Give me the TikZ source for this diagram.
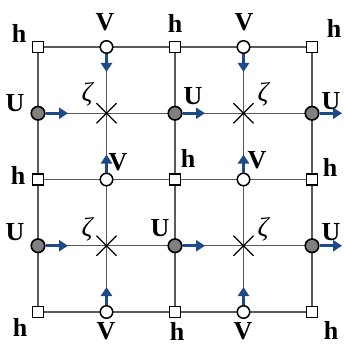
\documentclass[tikz,border=0pt]{standalone}
\usepackage{fontspec}
\setmainfont{Liberation Serif}
\usetikzlibrary{calc,positioning,arrows.meta,shapes.misc}
\definecolor{GridGray}{HTML}{5A5A5A}
\definecolor{FlowBlue}{HTML}{1F4A8A}
\definecolor{UFill}{HTML}{808080}

\tikzset{
  hbox/.style={draw=black, fill=white, line width=1.5pt, minimum size=11pt, inner sep=0pt},
  vdot/.style={circle, draw=black, fill=white, line width=1.5pt, minimum size=12.5pt, inner sep=0pt},
  udot/.style={circle, draw=black, fill=UFill, line width=1.6pt, minimum size=13.5pt, inner sep=0pt},
  zetax/.style={cross out, draw=black, line width=1.1pt, minimum size=19pt, inner sep=0pt},
  flow/.style={FlowBlue, line width=3.4pt, -{Triangle[length=9pt,width=11pt]}},
  lbl/.style={font=\fontsize{26}{26}\selectfont\bfseries, inner sep=0pt},
  zlbl/.style={font=\fontsize{27}{27}\selectfont\itshape, inner sep=0pt}
}

\begin{document}
\begin{tikzpicture}[x=1pt, y=-1pt]
  \useasboundingbox (0,0) rectangle (343,345);

  % grid points
  \foreach \i in {0,...,4}
    \foreach \j in {0,...,4}
      \coordinate (g-\i-\j) at ({38+68.5*\i},{47+66.25*\j});

  % grid lines
  \foreach \k in {0,...,4} {
    \draw[GridGray, line width=1.3pt] (g-\k-0) -- (g-\k-4);
    \draw[GridGray, line width=1.3pt] (g-0-\k) -- (g-4-\k);
  }

  % h points
  \foreach \i in {0,2,4}
    \foreach \j in {0,2,4}
      \node[hbox] (h-\i-\j) at (g-\i-\j) {};

  % V points
  \foreach \i in {1,3}
    \foreach \j in {0,2,4}
      \node[vdot] (v-\i-\j) at (g-\i-\j) {};

  % U points
  \foreach \i in {0,2,4}
    \foreach \j in {1,3}
      \node[udot] (u-\i-\j) at (g-\i-\j) {};

  % zeta points
  \foreach \i in {1,3}
    \foreach \j in {1,3}
      \node[zetax] (z-\i-\j) at (g-\i-\j) {};

  % U velocities
  \foreach \i in {0,2,4}
    \foreach \j in {1,3} {
      \coordinate (ut-\i-\j) at ($(u-\i-\j)+(30,0)$);
      \draw[flow] (u-\i-\j) -- (ut-\i-\j);
    }

  % V velocities
  \foreach \i in {1,3} {
    \coordinate (vt-\i-0) at ($(v-\i-0)+(0,25)$);
    \draw[flow] (v-\i-0) -- (vt-\i-0);
    \foreach \j in {2,4} {
      \coordinate (vt-\i-\j) at ($(v-\i-\j)+(0,-25)$);
      \draw[flow] (v-\i-\j) -- (vt-\i-\j);
    }
  }

  % labels
  \foreach \x/\y [count=\k] in {19/33, 175/23, 334/28, 18/175, 188/158, 330/167, 20/327, 177/331, 331/330}
    \node[lbl] (hl-\k) at (\x,\y) {h};
  \foreach \x/\y [count=\k] in {105/22, 244/22, 118/162, 257/160, 106/331, 243/331}
    \node[lbl] (vl-\k) at (\x,\y) {V};
  \foreach \x/\y [count=\k] in {15/103, 193/96, 331/101, 15/232, 160/228, 331/232}
    \node[lbl] (ul-\k) at (\x,\y) {U};
  \foreach \x/\y [count=\k] in {87/94, 263/94, 87/229, 263/229}
    \node[zlbl] (zl-\k) at (\x,\y) {ζ};
\end{tikzpicture}
\end{document}
